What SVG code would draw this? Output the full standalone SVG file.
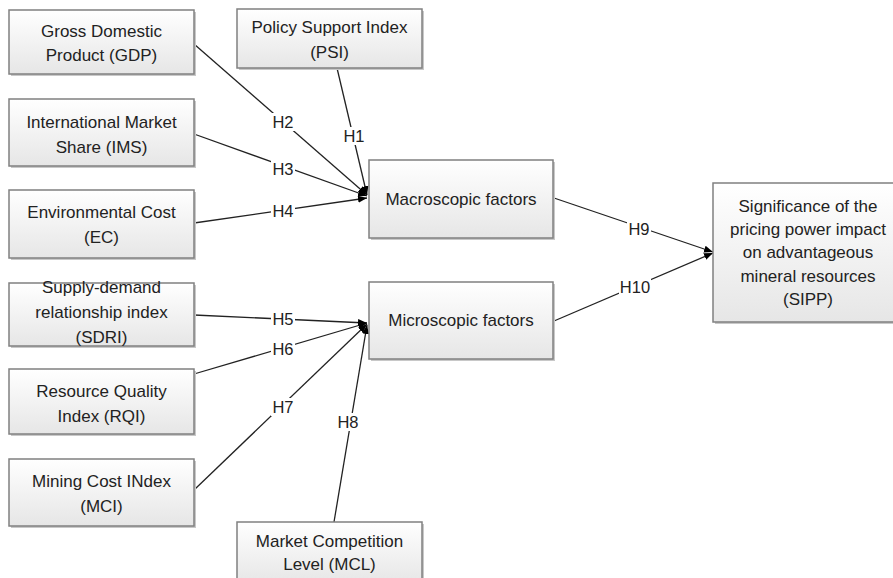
<svg xmlns="http://www.w3.org/2000/svg" width="893" height="578" viewBox="0 0 893 578">
<defs>
<linearGradient id="g" x1="0" y1="0" x2="0" y2="1">
<stop offset="0" stop-color="#ffffff"/>
<stop offset="1" stop-color="#e6e6e6"/>
</linearGradient>
<marker id="arr" viewBox="0 0 10 10" refX="10" refY="5" markerWidth="9" markerHeight="9" markerUnits="userSpaceOnUse" orient="auto">
<path d="M0,1 L10,5 L0,9 z" fill="#000"/>
</marker>
</defs>
<style>
.box{fill:url(#g);stroke:#808080;stroke-width:1.5}
.sh{fill:#c8c8c8}
.t{font-family:"Liberation Sans",Arial,sans-serif;font-size:17px;fill:#222;text-anchor:middle}
.h{font-size:16.5px}
.c{stroke:#222;stroke-width:1.3;fill:none;marker-end:url(#arr)}
.lb{fill:#fff}
</style>
<rect width="893" height="578" fill="#fff"/>
<g id="connectors">
<line class="c" x1="337" y1="68" x2="367" y2="195"/>
<line class="c" x1="194" y1="44" x2="367" y2="195"/>
<line class="c" x1="194" y1="134" x2="367" y2="196"/>
<line class="c" x1="194" y1="223" x2="367" y2="198"/>
<line class="c" x1="194" y1="315" x2="367" y2="323"/>
<line class="c" x1="194" y1="374" x2="367" y2="323"/>
<line class="c" x1="194" y1="490" x2="367" y2="324"/>
<line class="c" x1="334" y1="522" x2="367" y2="325"/>
<line class="c" x1="554" y1="198" x2="713" y2="252"/>
<line class="c" x1="554" y1="321" x2="713" y2="253"/>
<g id="labels">
<rect class="lb" x="271" y="113" width="24" height="18"/><text class="t h" x="283" y="128">H2</text>
<rect class="lb" x="343" y="127" width="22" height="18"/><text class="t h" x="354" y="142">H1</text>
<rect class="lb" x="271" y="160" width="24" height="17"/><text class="t h" x="283" y="175">H3</text>
<rect class="lb" x="271" y="203" width="24" height="17"/><text class="t h" x="283" y="217">H4</text>
<rect class="lb" x="271" y="311" width="24" height="17"/><text class="t h" x="283" y="325">H5</text>
<rect class="lb" x="271" y="340" width="24" height="17"/><text class="t h" x="283" y="355">H6</text>
<rect class="lb" x="271" y="398" width="24" height="18"/><text class="t h" x="283" y="413">H7</text>
<rect class="lb" x="337" y="413" width="22" height="18"/><text class="t h" x="348" y="428">H8</text>
<rect class="lb" x="627" y="220" width="24" height="17"/><text class="t h" x="639" y="235">H9</text>
<rect class="lb" x="619" y="278" width="32" height="17"/><text class="t h" x="635" y="293">H10</text>
</g>
</g>
<g id="GDP"><rect class="sh" x="11" y="12" width="185" height="64"/><rect class="box" x="9" y="10" width="185" height="64"/>
<text class="t" x="101.5" y="37">Gross Domestic</text><text class="t" x="101.5" y="61">Product (GDP)</text></g>
<g id="PSI"><rect class="sh" x="239" y="11" width="185" height="59"/><rect class="box" x="237" y="9" width="185" height="59"/>
<text class="t" x="329.5" y="33">Policy Support Index</text><text class="t" x="329.5" y="58">(PSI)</text></g>
<g id="IMS"><rect class="sh" x="11" y="101" width="185" height="67"/><rect class="box" x="9" y="99" width="185" height="67"/>
<text class="t" x="101.5" y="128">International Market</text><text class="t" x="101.5" y="153">Share (IMS)</text></g>
<g id="EC"><rect class="sh" x="11" y="192" width="185" height="68"/><rect class="box" x="9" y="190" width="185" height="68"/>
<text class="t" x="101.5" y="218">Environmental Cost</text><text class="t" x="101.5" y="243">(EC)</text></g>
<g id="SDRI"><rect class="sh" x="11" y="285" width="185" height="63"/><rect class="box" x="9" y="283" width="185" height="63"/>
<text class="t" x="101.5" y="293">Supply-demand</text><text class="t" x="101.5" y="318">relationship index</text><text class="t" x="101.5" y="343">(SDRI)</text></g>
<g id="RQI"><rect class="sh" x="11" y="371" width="185" height="65"/><rect class="box" x="9" y="369" width="185" height="65"/>
<text class="t" x="101.5" y="397">Resource Quality</text><text class="t" x="101.5" y="422">Index (RQI)</text></g>
<g id="MCI"><rect class="sh" x="11" y="461" width="185" height="67"/><rect class="box" x="9" y="459" width="185" height="67"/>
<text class="t" x="101.5" y="487">Mining Cost INdex</text><text class="t" x="101.5" y="512">(MCI)</text></g>
<g id="MCL"><rect class="sh" x="239" y="524" width="185" height="62"/><rect class="box" x="237" y="522" width="185" height="62"/>
<text class="t" x="329.5" y="547">Market Competition</text><text class="t" x="329.5" y="570">Level (MCL)</text></g>
<g id="Macro"><rect class="sh" x="371" y="162" width="184" height="78"/><rect class="box" x="369" y="160" width="184" height="78"/>
<text class="t" x="461" y="205">Macroscopic factors</text></g>
<g id="Micro"><rect class="sh" x="371" y="284" width="184" height="77"/><rect class="box" x="369" y="282" width="184" height="77"/>
<text class="t" x="461" y="326">Microscopic factors</text></g>
<g id="SIPP"><rect class="sh" x="715" y="185" width="190" height="139"/><rect class="box" x="713" y="183" width="190" height="139"/>
<text class="t" x="808" y="212">Significance of the</text><text class="t" x="808" y="235">pricing power impact</text><text class="t" x="808" y="258">on advantageous</text><text class="t" x="808" y="282">mineral resources</text><text class="t" x="808" y="305">(SIPP)</text></g>
</svg>
